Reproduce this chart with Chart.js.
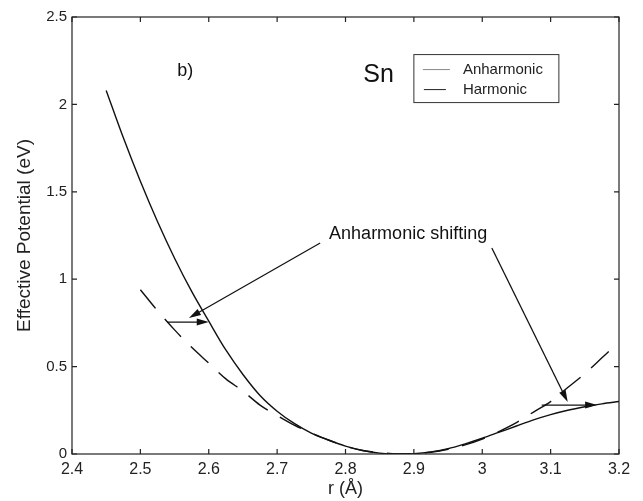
<!DOCTYPE html>
<html>
<head>
<meta charset="utf-8">
<script src="https://cdn.jsdelivr.net/npm/chart.js@4.4.1/dist/chart.umd.min.js"></script>
<style>
  body { margin: 0; background: #fff; }
  canvas { display: block; }
</style>
</head>
<body>
<canvas id="chart" width="643" height="501"></canvas>
<script>
// valeurs (r en Angström, énergie en eV)
const anhR = [2.45, 2.475, 2.50, 2.525, 2.55, 2.575, 2.60, 2.625, 2.65, 2.675, 2.70, 2.725, 2.75, 2.775, 2.80, 2.825, 2.85, 2.875, 2.90, 2.925, 2.95, 2.975, 3.00, 3.025, 3.05, 3.075, 3.10, 3.125, 3.15, 3.175, 3.20];
const anhE = [2.08, 1.81, 1.56, 1.33, 1.12, 0.93, 0.76, 0.595, 0.455, 0.335, 0.245, 0.175, 0.12, 0.08, 0.045, 0.02, 0.005, 0.0, 0.002, 0.012, 0.03, 0.058, 0.09, 0.125, 0.16, 0.195, 0.225, 0.25, 0.27, 0.287, 0.30];

const harR = [2.50, 2.525, 2.55, 2.575, 2.60, 2.625, 2.65, 2.675, 2.70, 2.725, 2.75, 2.775, 2.80, 2.825, 2.85, 2.875, 2.90, 2.925, 2.95, 2.975, 3.00, 3.025, 3.05, 3.075, 3.10, 3.125, 3.15, 3.175, 3.20];
const harE = [0.94, 0.82, 0.71, 0.61, 0.52, 0.43, 0.36, 0.28, 0.22, 0.165, 0.12, 0.08, 0.045, 0.02, 0.008, 0.001, 0.002, 0.01, 0.027, 0.052, 0.085, 0.13, 0.18, 0.24, 0.30, 0.38, 0.46, 0.55, 0.64];

const xTicks = [2.4, 2.5, 2.6, 2.7, 2.8, 2.9, 3.0, 3.1, 3.2];
const yTicks = [0, 0.5, 1, 1.5, 2, 2.5];

// flèches d'annotation : [x1, y1, x2, y2] en coordonnées des données
const arrows = [
  [2.763, 1.207, 2.571, 0.778],
  [2.539, 0.755, 2.600, 0.755],
  [3.014, 1.178, 3.125, 0.297],
  [3.087, 0.280, 3.168, 0.280]
];
const shiftLabel = { text: 'Anharmonic shifting', x: 2.776, y: 1.258 };

const FONT = '"Liberation Sans", Arial, Helvetica, sans-serif';
Chart.defaults.font.family = FONT;

function fmt(v) {
  return String(Math.round(v * 10) / 10);
}

function drawArrow(ctx, x1, y1, x2, y2) {
  const ang = Math.atan2(y2 - y1, x2 - x1);
  const len = 12, half = 3.5;
  ctx.beginPath();
  ctx.moveTo(x1, y1);
  ctx.lineTo(x2 - Math.cos(ang) * len * 0.8, y2 - Math.sin(ang) * len * 0.8);
  ctx.stroke();
  ctx.beginPath();
  ctx.moveTo(x2, y2);
  ctx.lineTo(x2 - Math.cos(ang) * len - Math.sin(ang) * half, y2 - Math.sin(ang) * len + Math.cos(ang) * half);
  ctx.lineTo(x2 - Math.cos(ang) * len + Math.sin(ang) * half, y2 - Math.sin(ang) * len - Math.cos(ang) * half);
  ctx.closePath();
  ctx.fill();
}

// cadre, graduations internes, textes, flèches et légende
const decor = {
  id: 'decor',
  afterDatasetsDraw(chart) {
    const { ctx, chartArea: a, scales: { x, y } } = chart;
    ctx.save();
    ctx.strokeStyle = '#222';
    ctx.fillStyle = '#111';
    ctx.lineWidth = 1.2;
    ctx.strokeRect(a.left, a.top, a.right - a.left, a.bottom - a.top);

    ctx.beginPath();
    xTicks.forEach(v => {
      const px = x.getPixelForValue(v);
      ctx.moveTo(px, a.bottom); ctx.lineTo(px, a.bottom - 5);
      ctx.moveTo(px, a.top); ctx.lineTo(px, a.top + 5);
    });
    yTicks.forEach(v => {
      const py = y.getPixelForValue(v);
      ctx.moveTo(a.left, py); ctx.lineTo(a.left + 5, py);
      ctx.moveTo(a.right, py); ctx.lineTo(a.right - 5, py);
    });
    ctx.stroke();

    // flèches
    ctx.lineWidth = 1.3;
    ctx.strokeStyle = '#111';
    arrows.forEach(ar => {
      drawArrow(ctx, x.getPixelForValue(ar[0]), y.getPixelForValue(ar[1]),
                x.getPixelForValue(ar[2]), y.getPixelForValue(ar[3]));
    });

    // textes
    ctx.textBaseline = 'middle';
    ctx.textAlign = 'left';
    ctx.font = '18px ' + FONT;
    ctx.fillText(shiftLabel.text, x.getPixelForValue(shiftLabel.x), y.getPixelForValue(shiftLabel.y));
    ctx.fillText('b)', x.getPixelForValue(2.554), y.getPixelForValue(2.19));
    ctx.font = '25px ' + FONT;
    ctx.fillText('Sn', x.getPixelForValue(2.826), y.getPixelForValue(2.165));

    // légende
    const lx = x.getPixelForValue(2.9), ly = y.getPixelForValue(2.285);
    const lw = 145, lh = 48;
    ctx.lineWidth = 1;
    ctx.strokeStyle = '#333';
    ctx.strokeRect(lx, ly, lw, lh);
    ctx.font = '15px ' + FONT;
    ctx.strokeStyle = '#888';
    ctx.beginPath();
    ctx.moveTo(lx + 9, ly + 15); ctx.lineTo(lx + 36, ly + 15);
    ctx.stroke();
    ctx.strokeStyle = '#222';
    ctx.beginPath();
    ctx.moveTo(lx + 10, ly + 35); ctx.lineTo(lx + 32, ly + 35);
    ctx.stroke();
    ctx.fillStyle = '#222';
    ctx.fillText('Anharmonic', lx + 49, ly + 15);
    ctx.fillText('Harmonic', lx + 49, ly + 35);
    ctx.restore();
  }
};

const ctx = document.getElementById('chart').getContext('2d');
new Chart(ctx, {
  type: 'line',
  data: {
    datasets: [
      {
        label: 'Anharmonic',
        data: anhR.map((r, i) => ({ x: r, y: anhE[i] })),
        borderColor: '#111',
        borderWidth: 1.4,
        pointRadius: 0,
        cubicInterpolationMode: 'monotone'
      },
      {
        label: 'Harmonic',
        data: harR.map((r, i) => ({ x: r, y: harE[i] })),
        borderColor: '#111',
        borderWidth: 1.4,
        borderDash: [24, 14],
        pointRadius: 0,
        cubicInterpolationMode: 'monotone'
      }
    ]
  },
  options: {
    responsive: false,
    animation: false,
    layout: { padding: { top: 17, right: 24, left: 0, bottom: 0 } },
    plugins: { legend: { display: false }, tooltip: { enabled: false } },
    scales: {
      x: {
        type: 'linear',
        min: 2.4,
        max: 3.2,
        afterBuildTicks: s => { s.ticks = xTicks.map(v => ({ value: v })); },
        ticks: { callback: fmt, font: { size: 16 }, color: '#222', padding: 6, maxRotation: 0 },
        grid: { display: false, drawTicks: false },
        border: { display: false },
        title: { display: true, text: 'r (Å)', font: { size: 18 }, color: '#222', padding: { top: 0, bottom: 1 } },
        afterFit: s => { s.height = 47; }
      },
      y: {
        min: 0,
        max: 2.5,
        afterBuildTicks: s => { s.ticks = yTicks.map(v => ({ value: v })); },
        ticks: { callback: fmt, font: { size: 15 }, color: '#222', padding: 5 },
        grid: { display: false, drawTicks: false },
        border: { display: false },
        title: { display: true, text: 'Effective Potential (eV)', font: { size: 19 }, color: '#222', padding: { top: 13, bottom: 0 } },
        afterFit: s => { s.width = 72; }
      }
    }
  },
  plugins: [decor]
});
</script>
</body>
</html>
